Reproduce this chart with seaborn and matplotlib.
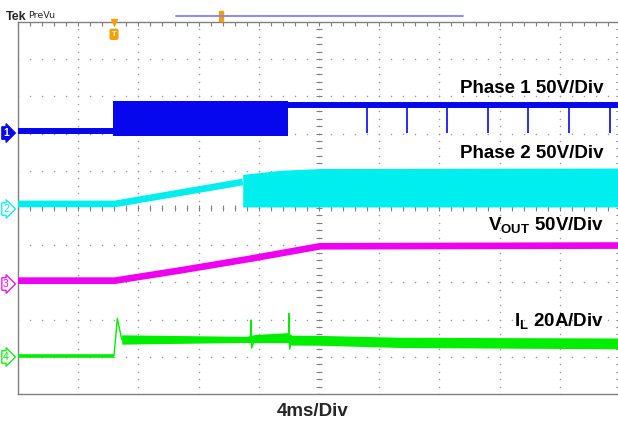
import numpy as np
import pandas as pd
import seaborn as sns
import matplotlib.pyplot as plt

# time in ms (4 ms/div, 10 div), levels in V or A relative to each channel marker
ch1_idle_t = [0, 6.31]
ch1_idle_v = [2.7, 2.7]
ch1_sw_t = [6.31, 17.94]
ch1_sw_hi = [43.0, 43.0]
ch1_sw_lo = [-4.0, -4.0]
ch1_high_t = [17.94, 40.0]
ch1_high_v = [37.6, 37.6]
ch1_spike_t = [23.19, 25.85, 28.50, 31.23, 33.89, 36.61, 39.34]
ch1_spike_lo = 0.0

ch2_t = [0, 6.44, 14.93]
ch2_v = [6.8, 6.8, 36.3]
ch2_sw_t = [14.93, 17.41, 20.07, 40.0]
ch2_sw_hi = [46.5, 52.0, 54.4, 55.1]
ch2_sw_lo = [2.7, 2.7, 2.7, 2.7]

ch3_t = [0, 6.44, 10.76, 15.42, 20.07, 40.0]
ch3_v = [4.5, 4.5, 18.2, 33.9, 50.7, 51.7]

ch4_t = [0, 6.38, 6.60, 6.89, 15.20, 15.44, 15.48, 15.52, 15.75, 17.94, 17.98,
         18.01, 18.05, 18.20, 20.07, 25.38, 40.0]
ch4_i = [0.5, 0.5, 20.8, 9.5, 9.5, 9.5, 19.9, 4.8, 9.9, 10.4, 10.4,
         23.5, 4.3, 9.1, 9.1, 7.9, 7.2]
ch4_band_t = [6.89, 15.20, 15.75, 17.94, 18.20, 20.07, 25.38, 40.0]
ch4_band_hi = [11.9, 11.1, 12.1, 13.1, 11.7, 11.6, 10.6, 10.2]
ch4_band_lo = [6.9, 7.8, 7.7, 7.7, 6.4, 6.3, 5.1, 4.4]

# channel ground marker (in divisions) and scale per division
offsets = {1: 7.016, 2: 4.973, 3: 2.957, 4: 0.995}
scales = {1: 50.0, 2: 50.0, 3: 50.0, 4: 20.0}
colors = {1: '#0707EE', 2: '#00EEEE', 3: '#F000F0', 4: '#00EE00'}


def to_div(ch, vals):
    return offsets[ch] + np.asarray(vals, dtype=float) / scales[ch]


def trace(ax, ch, t, v, lw):
    df = pd.DataFrame({'t': t, 'y': to_div(ch, v)})
    sns.lineplot(data=df, x='t', y='y', ax=ax, color=colors[ch], lw=lw,
                 estimator=None, sort=False, solid_capstyle='butt', zorder=4)


sns.set_style("white")
plt.rcParams['font.family'] = ['Liberation Sans', 'DejaVu Sans']
plt.rcParams['mathtext.fontset'] = 'custom'
plt.rcParams['mathtext.bf'] = 'Liberation Sans:bold'
plt.rcParams['mathtext.rm'] = 'Liberation Sans'

fig = plt.figure(figsize=(6.18, 4.22), dpi=100)
ax = fig.add_axes([18 / 618, 28 / 422, 602 / 618, 372 / 422])
ax.set_xlim(0, 40)
ax.set_ylim(0, 10)

# graticule dots
grid_col = '#a0a0a0'
minor_x = np.arange(0, 40.01, 0.8)
minor_y = np.arange(0, 10.01, 0.2)
for yy in range(1, 10):
    ax.plot(minor_x, np.full_like(minor_x, yy), ls='none', marker='o', ms=1.1,
            mew=0, color=grid_col, zorder=1)
for xx in range(4, 40, 4):
    ax.plot(np.full_like(minor_y, xx), minor_y, ls='none', marker='o', ms=1.1,
            mew=0, color=grid_col, zorder=1)
# centre cross ticks
ax.plot(minor_x, np.full_like(minor_x, 5), ls='none', marker='|', ms=4,
        mew=0.8, color='#808080', zorder=1)
ax.plot(np.full_like(minor_y, 20), minor_y, ls='none', marker='_', ms=4,
        mew=0.8, color='#808080', zorder=1)

ax.set_xticks(np.arange(0, 41, 4))
ax.set_yticks(np.arange(0, 11, 1))
ax.set_xticks(minor_x, minor=True)
ax.set_yticks(minor_y, minor=True)
ax.tick_params(which='both', direction='in', color='#808080', length=3,
               width=0.8, top=True, right=True, labelbottom=False,
               labelleft=False)
for s in ax.spines.values():
    s.set_color('#808080')
    s.set_linewidth(1)
ax.set_xlabel('')
ax.set_ylabel('')

# channel 1
trace(ax, 1, ch1_idle_t, ch1_idle_v, 4.3)
ax.fill_between(ch1_sw_t, to_div(1, ch1_sw_lo), to_div(1, ch1_sw_hi),
                color=colors[1], lw=0, zorder=3)
trace(ax, 1, ch1_high_t, ch1_high_v, 4.3)
ax.vlines(ch1_spike_t, to_div(1, [ch1_spike_lo])[0], to_div(1, ch1_high_v)[0],
          color=colors[1], lw=1.2)

# channel 2
trace(ax, 2, ch2_t, ch2_v, 4.8)
ax.fill_between(ch2_sw_t, to_div(2, ch2_sw_lo), to_div(2, ch2_sw_hi),
                color=colors[2], lw=0, zorder=3)

# channel 3
trace(ax, 3, ch3_t, ch3_v, 4.8)

# channel 4
trace(ax, 4, ch4_t[:2], ch4_i[:2], 2.6)
trace(ax, 4, ch4_t[1:], ch4_i[1:], 1.0)
ax.fill_between(ch4_band_t, to_div(4, ch4_band_lo), to_div(4, ch4_band_hi),
                color=colors[4], lw=0, zorder=3)

# labels
lab = dict(ha='right', va='baseline', fontsize=13.5, fontweight='bold',
           color='black', zorder=5)
ax.text(38.9, 8.09, 'Phase 1 50V/Div', **lab)
ax.text(38.9, 6.34, 'Phase 2 50V/Div', **lab)
ax.text(38.9, 4.38, r'V$_\mathbf{OUT}$ 50V/Div', **lab)
ax.text(38.9, 1.80, r'I$_\mathbf{L}$ 20A/Div', **lab)
fig.text(313 / 618, 1 - 411 / 422, '4ms/Div', ha='center', va='center',
         fontsize=13.5, fontweight='bold')

# channel markers
for ch in [1, 2, 3, 4]:
    filled = ch == 1
    ax.text(-0.8, offsets[ch], str(ch), ha='center', va='center', fontsize=7.5,
            color='white' if filled else colors[ch], clip_on=False,
            fontweight='bold' if filled else 'normal',
            bbox=dict(boxstyle='rarrow,pad=0.12',
                      fc=colors[ch] if filled else 'white', ec=colors[ch],
                      lw=0.9))

# header
fig.text(6 / 618, 1 - 17 / 422, 'Tek', ha='left', va='center', fontsize=9,
         fontweight='bold')
fig.text(28 / 618, 1 - 16 / 422, 'PreVu', ha='left', va='center', fontsize=6.8,
         family='DejaVu Sans')
fig.add_artist(plt.Line2D([176 / 618, 463 / 618], [1 - 16 / 422, 1 - 16 / 422],
                          color='#8080FF', lw=1.3))
fig.add_artist(plt.Rectangle((219 / 618, 1 - 21 / 422), 4 / 618, 10 / 422,
                             color='#F5A000'))

# trigger marker
trig = '#F5A000'
ax.plot([6.38], [10], marker='v', ms=5, color=trig, clip_on=False, zorder=6)
ax.text(6.38, 9.67, 'T', ha='center', va='center', fontsize=5.5,
        fontweight='bold', color='white', clip_on=False, zorder=6,
        bbox=dict(boxstyle='round,pad=0.2', fc=trig, ec=trig))

fig.savefig('out.png', dpi=100)
